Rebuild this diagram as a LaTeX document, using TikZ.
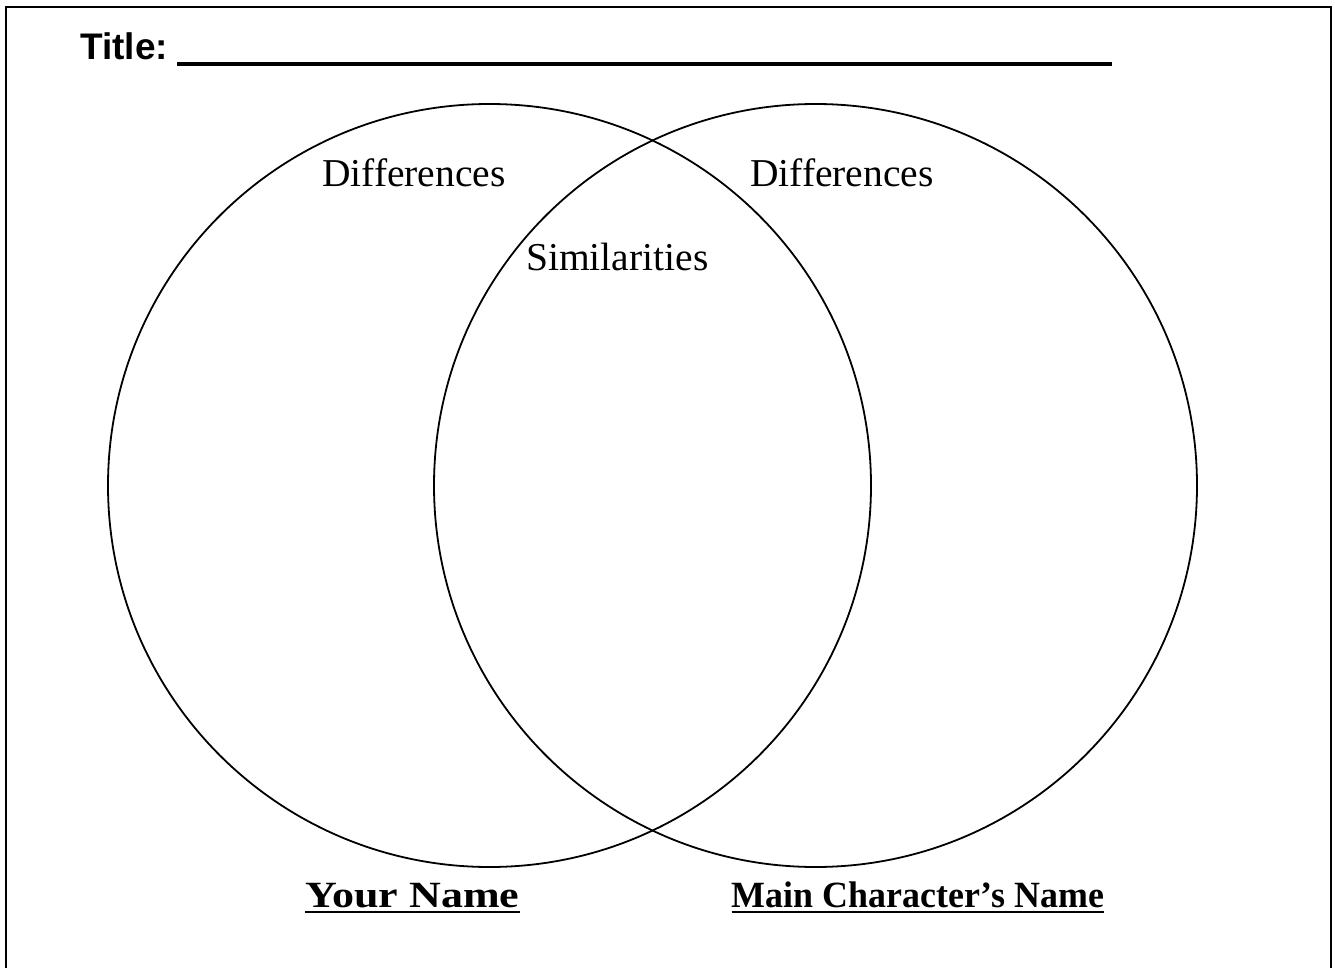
\documentclass[tikz,border=0pt]{standalone}
\usepackage{fontspec}
\setmainfont{Liberation Serif}
\setsansfont{Liberation Sans}
\begin{document}
\begin{tikzpicture}[x=1pt,y=-1pt,
  frame/.style={line width=2.2pt},
  ring/.style={circle,draw,line width=1.8pt,minimum size=763pt,inner sep=0pt},
  lbl/.style={anchor=base west,inner sep=0pt,font=\fontsize{39.5}{44}\selectfont},
  namelbl/.style={anchor=base,inner sep=0pt,font=\bfseries\fontsize{37}{42}\selectfont},
  uline/.style={line width=2.8pt},
  blank/.style={line width=4pt}]
\useasboundingbox (0,0) rectangle (1335,968);
\draw[frame] (6,968) -- (6,7) -- (1331,7) -- (1331,968);
\node[ring] (cl) at (489.5,485.5) {};
\node[ring] (cr) at (815.5,485.5) {};
\node[anchor=base west,inner sep=0pt,font=\sffamily\bfseries\fontsize{37}{42}\selectfont] (title) at (80,60) {Title:};
\coordinate (blankA) at (177,64);
\coordinate (blankB) at (1112,64);
\draw[blank] (blankA) -- (blankB);
\node[lbl] (diffL) at (322,187) {Differences};
\node[lbl] (diffR) at (750,187) {Differences};
\node[lbl] (sim) at (526,270) {Similarities};
\node[namelbl] (nameL) at (412.5,907) {\scalebox{1.19}[1]{Your Name}};
\node[namelbl] (nameR) at (918,907) {\scalebox{0.97}[1]{Main Character’s Name}};
\draw[uline] ([yshift=-5pt]nameL.base west) -- ([yshift=-5pt]nameL.base east);
\draw[uline] ([yshift=-5pt]nameR.base west) -- ([yshift=-5pt]nameR.base east);
\end{tikzpicture}
\end{document}
